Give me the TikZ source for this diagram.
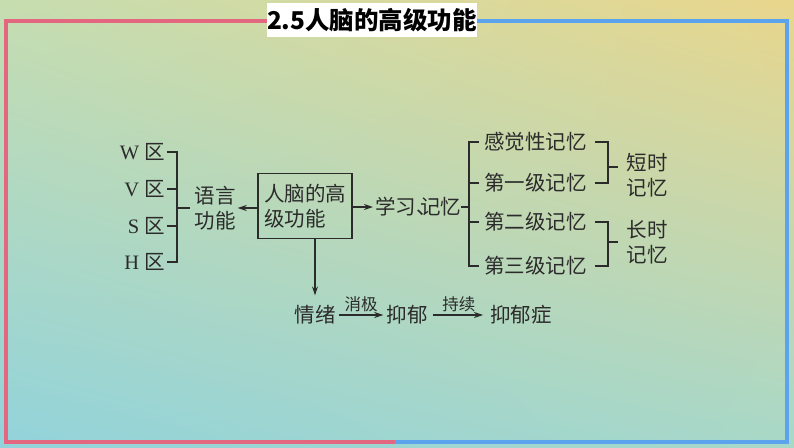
\documentclass[tikz,border=0pt]{standalone}
\usepackage{fontspec}
\setmainfont{Liberation Serif}
\newfontfamily\cjk{Noto Sans CJK SC}
\usetikzlibrary{arrows.meta,shadings}
\definecolor{FrameRed}{HTML}{E2677F}
\definecolor{FrameBlue}{HTML}{5CA3EE}
\definecolor{InkGray}{HTML}{2B2B2B}
\definecolor{BgTopLeft}{RGB}{198,221,176}
\definecolor{BgTopRight}{RGB}{233,214,140}
\definecolor{BgLowLeft}{RGB}{146,211,219}
\definecolor{BgLowRight}{RGB}{168,216,200}

\begin{document}
\begin{tikzpicture}[x=1pt,y=-1pt,
  txt/.style={inner sep=0pt,text=InkGray,font=\cjk\fontsize{20.5}{25}\selectfont},
  lbl/.style={inner sep=0pt,text=InkGray,font=\cjk\fontsize{16.5}{20}\selectfont},
  ln/.style={draw=InkGray,line width=1.4pt},
  arr/.style={ln,-{Stealth[length=9pt,width=6pt]}}]
\useasboundingbox (0,0) rectangle (794,447);
\shade[upper left=BgTopLeft,upper right=BgTopRight,lower left=BgLowLeft,lower right=BgLowRight] (0,0) rectangle (794,447);
\draw[FrameRed,line width=4.5pt] (267,21) -- (6,21) -- (6,442) -- (395,442);
\draw[FrameBlue,line width=4.5pt] (477,21) -- (787,21) -- (787,442) -- (395,442);
\node[fill=white,inner sep=0pt,minimum width=210pt,minimum height=34pt,font=\cjk\bfseries\fontsize{24.5}{28}\selectfont] (title) at (372,20) {2.5人脑的高级功能};

\node[txt,anchor=east] (w) at (165,152) {\rmfamily W \cjk 区};
\node[txt,anchor=east] (v) at (165,189) {\rmfamily V \cjk 区};
\node[txt,anchor=east] (s) at (165,226) {\rmfamily S \cjk 区};
\node[txt,anchor=east] (h) at (165,262) {\rmfamily H \cjk 区};
\draw[ln] ([xshift=2pt]w.east) -| ([xshift=12pt]h.east) -- ([xshift=2pt]h.east);
\draw[ln] ([xshift=2pt]v.east) -- ++(10,0);
\draw[ln] ([xshift=2pt]s.east) -- ++(10,0);
\node[txt,align=center] (lang) at (215,208) {语言\\功能};
\draw[ln] ([xshift=12pt]v.east |- lang.west) -- ([xshift=-4pt]lang.west);

\node[txt,draw=InkGray,line width=1.4pt,align=left,minimum width=94pt,minimum height=65pt] (brain) at (305,206) {人脑的高\\级功能};
\draw[arr] (brain.west |- lang) -- ([xshift=2pt]lang.east);

\node[txt,anchor=west] (mem) at (375,207) {学习\makebox[4pt][l]{、}记忆};
\draw[arr] (brain.east |- mem.west) -- ([xshift=-2pt]mem.west);

\node[txt,anchor=west] (m1) at (484,142) {感觉性记忆};
\node[txt,anchor=west] (m2) at (484,183) {第一级记忆};
\node[txt,anchor=west] (m3) at (484,222) {第二级记忆};
\node[txt,anchor=west] (m4) at (484,266) {第三级记忆};
\draw[ln] (mem.east) -- ([xshift=-15pt]m1.west |- mem.east);
\draw[ln] ([xshift=-5pt]m1.west) -| ([xshift=-15pt]m4.west) -- ([xshift=-5pt]m4.west);
\draw[ln] ([xshift=-5pt]m2.west) -- ++(-10,0);
\draw[ln] ([xshift=-5pt]m3.west) -- ++(-10,0);

\node[txt,align=center] (short) at (647,175) {短时\\记忆};
\node[txt,align=center] (long) at (647,242) {长时\\记忆};
\draw[ln] ([xshift=8pt]m1.east) -| ([xshift=21pt]m2.east) -- ([xshift=8pt]m2.east);
\draw[ln] ([xshift=8pt]m3.east) -| ([xshift=21pt]m4.east) -- ([xshift=8pt]m4.east);
\coordinate (shortin) at ([yshift=8pt,xshift=-8.5pt]short.west);
\draw[ln] (shortin) -- ++(-10,0);
\draw[ln] ([xshift=21pt]m3.east |- long.west) -- ([xshift=-8.5pt]long.west);

\node[txt] (mood) at (315,315) {情绪};
\node[txt] (dep) at (407,315) {抑郁};
\node[txt] (ill) at (521,315) {抑郁症};
\draw[arr] (brain.south -| mood) -- ([yshift=10pt]mood.north);
\draw[arr,shorten <=3pt,shorten >=3pt] (mood.east) -- node[lbl,above=2pt] {消极} (dep.west);
\draw[arr,shorten <=5pt,shorten >=7pt] (dep.east) -- node[lbl,above=2pt] {持续} (ill.west);
\end{tikzpicture}
\end{document}
